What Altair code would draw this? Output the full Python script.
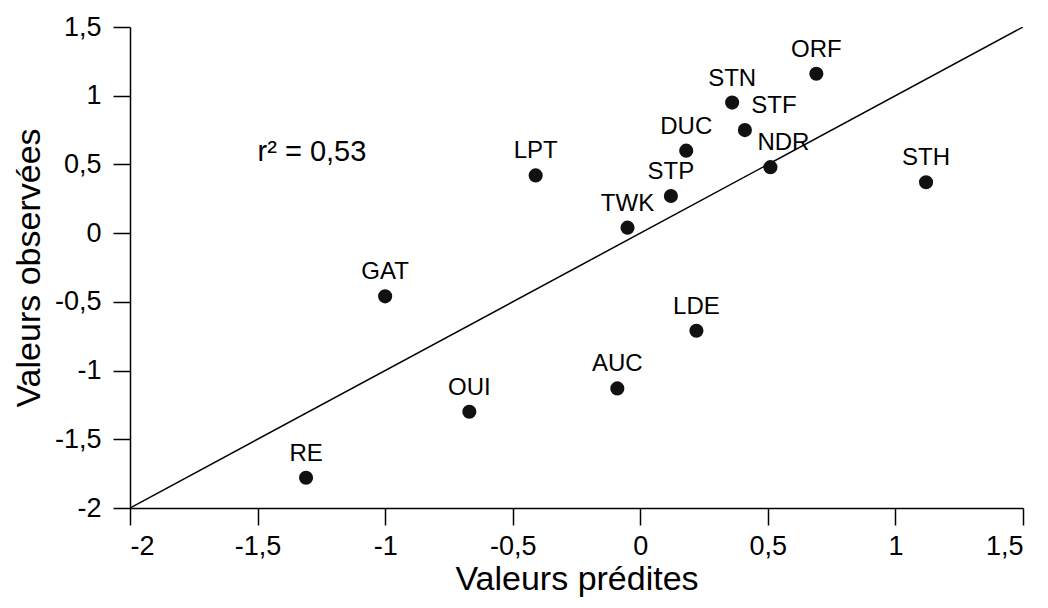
import altair as alt
import pandas as pd

# Data
codes = ["RE", "OUI", "GAT", "AUC", "LDE", "TWK", "LPT", "STP", "DUC", "STN", "STF", "NDR", "ORF", "STH"]
predicted = [-1.31, -0.67, -1.00, -0.09, 0.22, -0.05, -0.41, 0.12, 0.18, 0.36, 0.41, 0.51, 0.69, 1.12]
observed = [-1.78, -1.30, -0.46, -1.13, -0.71, 0.04, 0.42, 0.27, 0.60, 0.95, 0.75, 0.48, 1.16, 0.37]

line_x = [-2.0, 1.5]
line_y = [-2.0, 1.5]

tick_values = [-2, -1.5, -1, -0.5, 0, 0.5, 1, 1.5]

annot_text = ["r² = 0,53"]
annot_x = [-1.5]
annot_y = [0.59]

df = pd.DataFrame({"code": codes, "pred": predicted, "obs": observed})
line_df = pd.DataFrame({"x": line_x, "y": line_y})
annot_df = pd.DataFrame({"t": annot_text, "x": annot_x, "y": annot_y})

FONT = "Liberation Sans"
label_expr = "replace(toString(datum.value), '.', ',')"

xscale = alt.Scale(domain=[-2, 1.5], nice=False, zero=False)
yscale = alt.Scale(domain=[-2, 1.5], nice=False, zero=False)

xaxis = alt.Axis(values=tick_values, labelExpr=label_expr, title="Valeurs prédites",
                 grid=False, tickSize=17, tickWidth=1.5, domainWidth=1.5,
                 domainColor="black", tickColor="black", labelColor="black",
                 labelFontSize=27, labelFont=FONT, labelPadding=8,
                 titleFont=FONT, titleFontSize=34, titleFontWeight="normal",
                 titleColor="black", titlePadding=3)
yaxis = alt.Axis(values=tick_values, labelExpr=label_expr, title="Valeurs observées",
                 grid=False, tickSize=17, tickWidth=1.5, domainWidth=1.5,
                 domainColor="black", tickColor="black", labelColor="black",
                 labelFontSize=27, labelFont=FONT, labelPadding=12,
                 titleFont=FONT, titleFontSize=34, titleFontWeight="normal",
                 titleColor="black", titlePadding=8)

line = alt.Chart(line_df).mark_line(color="black", strokeWidth=1.5, clip=True).encode(
    x=alt.X("x:Q", scale=xscale, axis=xaxis),
    y=alt.Y("y:Q", scale=yscale, axis=yaxis),
)

points = alt.Chart(df).mark_circle(size=200, color="#111111", opacity=1).encode(
    x=alt.X("pred:Q", scale=xscale),
    y=alt.Y("obs:Q", scale=yscale),
)

labels_main = alt.Chart(df).transform_filter(
    "datum.code != 'STF' && datum.code != 'NDR'"
).mark_text(font=FONT, fontSize=24, color="black", dy=-24, align="center", baseline="middle").encode(
    x="pred:Q", y="obs:Q", text="code:N"
)

labels_stf = alt.Chart(df).transform_filter("datum.code == 'STF'").mark_text(
    font=FONT, fontSize=24, color="black", dx=29, dy=-24, align="center", baseline="middle"
).encode(x="pred:Q", y="obs:Q", text="code:N")

labels_ndr = alt.Chart(df).transform_filter("datum.code == 'NDR'").mark_text(
    font=FONT, fontSize=24, color="black", dx=13, dy=-24, align="center", baseline="middle"
).encode(x="pred:Q", y="obs:Q", text="code:N")

annot = alt.Chart(annot_df).mark_text(
    font=FONT, fontSize=29, color="black", align="left", baseline="middle"
).encode(x="x:Q", y="y:Q", text="t:N")

chart = alt.layer(line, points, labels_main, labels_stf, labels_ndr, annot).properties(
    width=893, height=481,
    autosize=alt.AutoSizeParams(type="none"),
    padding={"left": 130, "top": 27, "right": 25, "bottom": 100},
    background="white",
).configure_view(stroke=None)

chart.save("out.html", embed_options={"renderer": "svg", "actions": False})
